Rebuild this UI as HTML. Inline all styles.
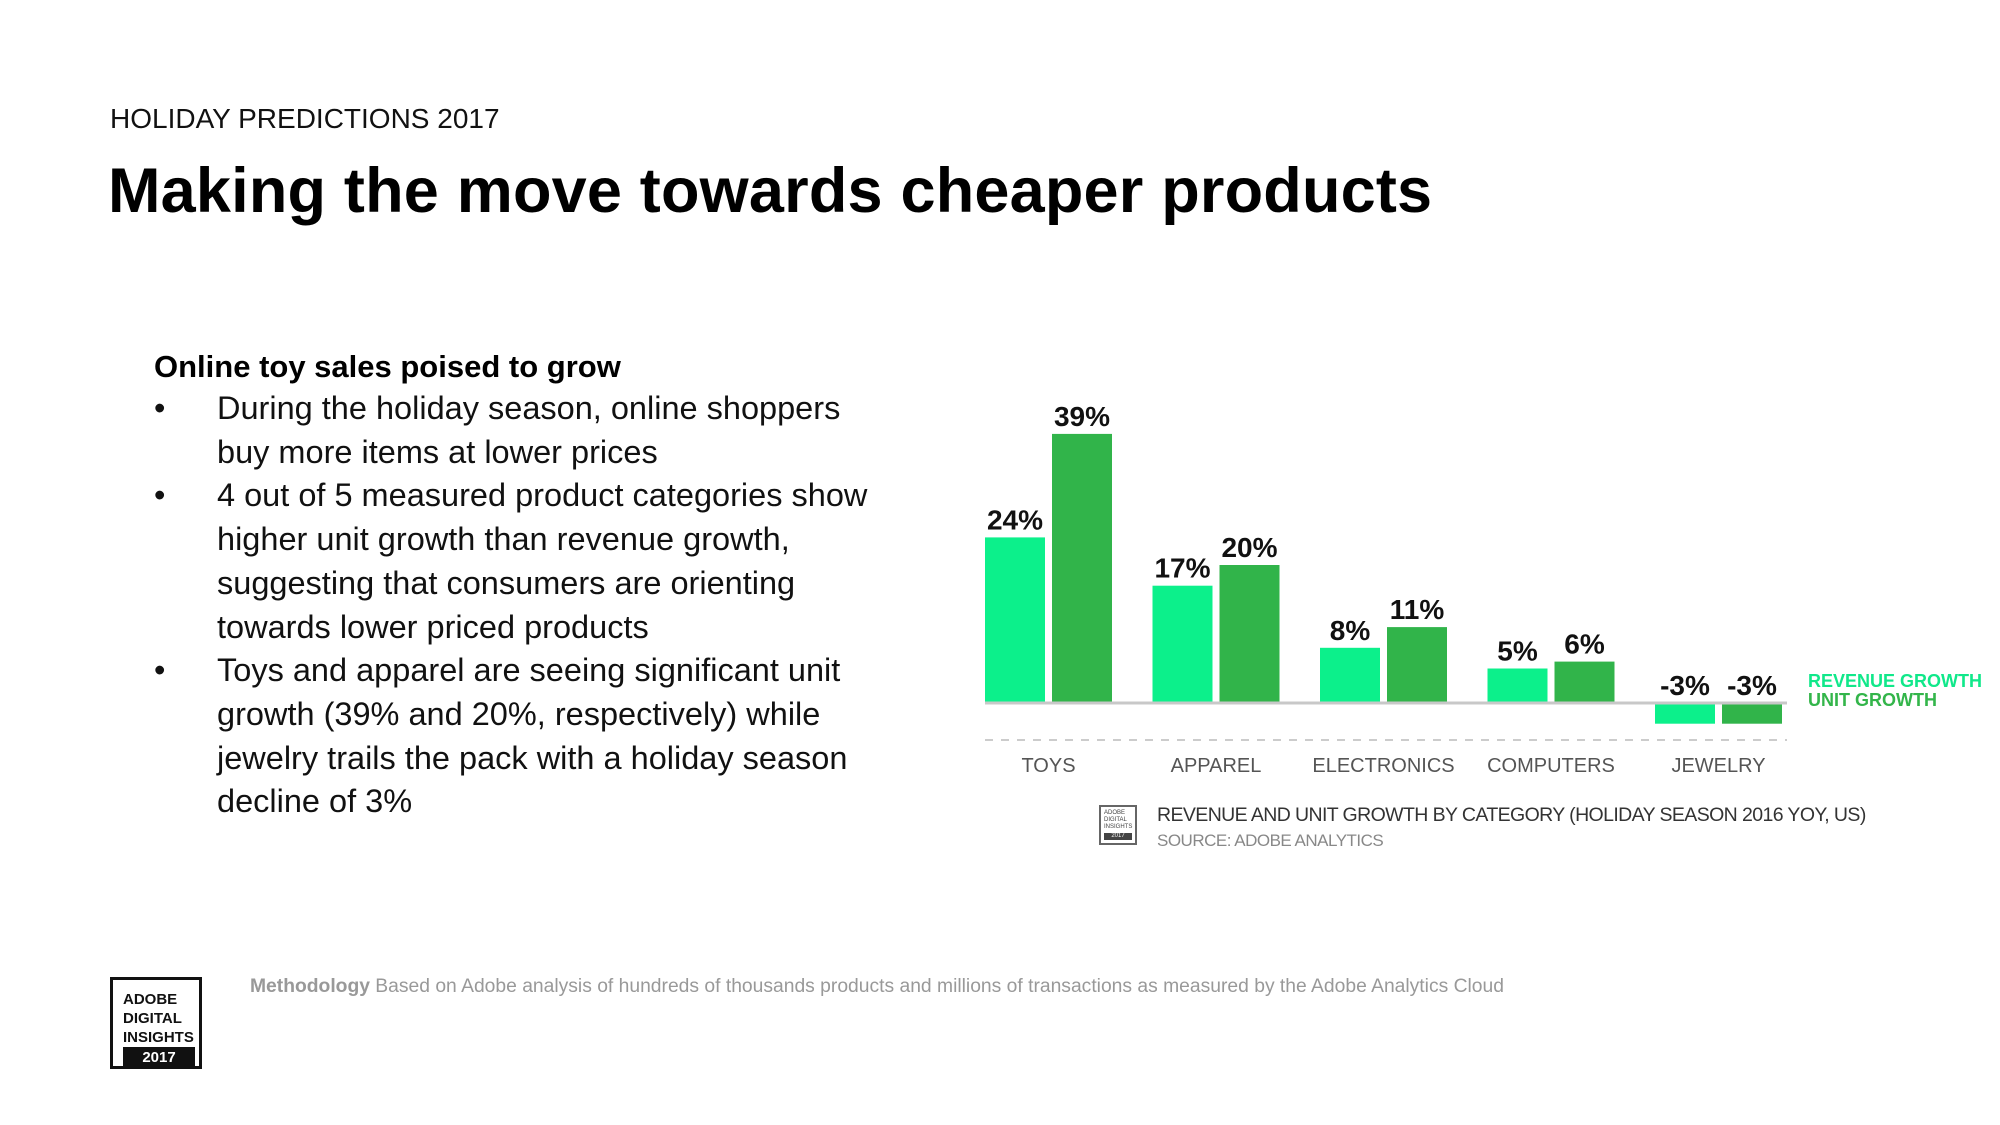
<!DOCTYPE html>
<html><head><meta charset="utf-8"><style>
body{margin:0;width:2000px;height:1125px;background:#fff;font-family:"Liberation Sans",sans-serif;position:relative;overflow:hidden}
.a{position:absolute;white-space:nowrap}
</style></head><body>
<div class="a" style="left:110px;top:103px;font-size:28px;color:#111">HOLIDAY PREDICTIONS 2017</div>
<div class="a" style="left:108px;top:155px;font-size:63px;font-weight:bold;color:#000;letter-spacing:0.2px">Making the move towards cheaper products</div>
<div class="a" style="left:154px;top:349px;font-size:31px;font-weight:bold;color:#000">Online toy sales poised to grow</div>
<div style="position:absolute;left:154px;top:387px;font-size:32.5px;line-height:43.7px;color:#111">
<div style="display:flex"><span style="width:63px">•</span><span>During the holiday season, online shoppers<br>buy more items at lower prices</span></div>
<div style="display:flex"><span style="width:63px">•</span><span>4 out of 5 measured product categories show<br>higher unit growth than revenue growth,<br>suggesting that consumers are orienting<br>towards lower priced products</span></div>
<div style="display:flex"><span style="width:63px">•</span><span>Toys and apparel are seeing significant unit<br>growth (39% and 20%, respectively) while<br>jewelry trails the pack with a holiday season<br>decline of 3%</span></div>
</div>
<svg id="chart" width="2000" height="1125" style="position:absolute;left:0;top:0"></svg>
<div class="a" style="left:1808px;top:671px;font-size:18px;font-weight:bold;color:#10e88a">REVENUE GROWTH</div>
<div class="a" style="left:1808px;top:690px;font-size:18px;font-weight:bold;color:#33b54a">UNIT GROWTH</div>
<div style="position:absolute;left:1099px;top:805px;width:38px;height:40px;border:2px solid #666;font-size:6px;line-height:7px;color:#444;padding:3px;box-sizing:border-box">ADOBE<br>DIGITAL<br>INSIGHTS<div style="background:#444;color:#fff;text-align:center;margin-top:2px">2017</div></div>
<div class="a" style="left:1157px;top:804px;font-size:19.5px;color:#333;letter-spacing:-0.6px">REVENUE AND UNIT GROWTH BY CATEGORY (HOLIDAY SEASON 2016 YOY, US)</div>
<div class="a" style="left:1157px;top:831px;font-size:17px;color:#888;letter-spacing:-0.5px">SOURCE: ADOBE ANALYTICS</div>
<div style="position:absolute;left:110px;top:977px;width:92px;height:92px;border:3px solid #111;box-sizing:border-box;font-size:15px;font-weight:bold;line-height:19px;padding:10px 0 0 10px;color:#111">ADOBE<br>DIGITAL<br>INSIGHTS<div style="position:absolute;left:10px;bottom:-3px;width:72px;height:22px;background:#111;color:#fff;text-align:center;line-height:22px">2017</div></div>
<div class="a" style="left:250px;top:976px;font-size:19.3px;color:#999"><b>Methodology</b> Based on Adobe analysis of hundreds of thousands products and millions of transactions as measured by the Adobe Analytics Cloud</div>
<script>
const categories=["TOYS","APPAREL","ELECTRONICS","COMPUTERS","JEWELRY"];
const revenue=[24,17,8,5,-3];
const units=[39,20,11,6,-3];
const svg=document.getElementById('chart');
const NS='http://www.w3.org/2000/svg';
const base=703,ppu=6.9,x0=985,step=167.5,bw=60,gap=7;
function y(v){return base-v*ppu;}
function mk(t,a){const e=document.createElementNS(NS,t);for(const k in a)e.setAttribute(k,a[k]);svg.appendChild(e);return e;}
categories.forEach((c,i)=>{
  const gx=x0+i*step;
  [[revenue[i],'#0cf08b',gx],[units[i],'#31b44a',gx+bw+gap]].forEach(([v,col,bx],j)=>{
    const r=mk('rect',{x:bx,y:Math.min(y(v),base),width:bw,height:Math.abs(y(v)-base),fill:col});
    
    
    const ly=v>=0?y(v)-8:base-8;
    const t=mk('text',{x:bx+bw/2,y:ly,'text-anchor':'middle','font-size':28,'font-weight':'bold',fill:'#111'});
    t.textContent=v+'%';
    
    
  });
  const l=mk('text',{x:gx+bw+gap/2,y:772,'text-anchor':'middle','font-size':20,fill:'#555'});
  l.textContent=c;
  
  
});
const bl=mk('line',{x1:985,x2:1787,y1:base,y2:base,stroke:'#c8c8c8','stroke-width':3});


const dl=mk('line',{x1:985,x2:1787,y1:740,y2:740,stroke:'#bbb','stroke-width':1.5,'stroke-dasharray':'8 8'});


</script>
</body></html>
